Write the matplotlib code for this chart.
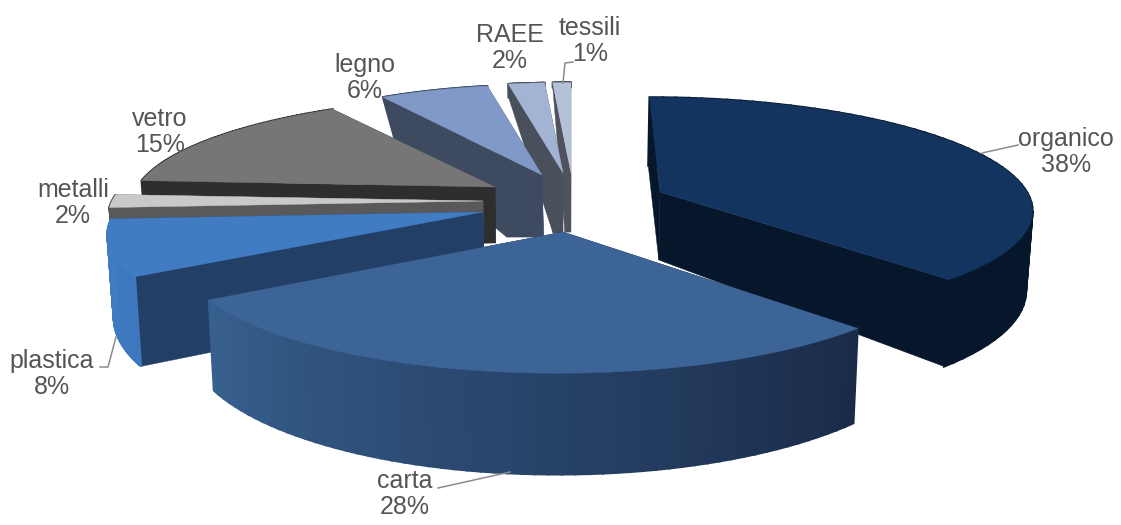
import numpy as np
import matplotlib
matplotlib.use("Agg")
import matplotlib.pyplot as plt
from matplotlib.colors import to_rgb

plt.rcParams['font.family'] = ['Liberation Sans', 'DejaVu Sans']

# Exploded 3D pie, drawn by hand because matplotlib has no perspective pie

labels = ["organico", "carta", "plastica", "metalli", "vetro", "legno", "RAEE", "tessili"]
values = [38, 28, 8, 2, 15, 6, 2, 1]

top_colors = ["#12345f", "#3c6496", "#417cc3", "#c9c9c9", "#767676", "#8099c6", "#a3b3d3", "#b5c0d9"]
face_colors = ["#07172b", "#1b2c4a", "#243f66", "#595959", "#2e2e2e", "#3d4a60", "#4a4f5c", "#50535e"]
rim_start = ["#07172b", "#1a2b49", "#3d78bf", "#595959", "#2e2e2e", "#3d4a60", "#4a4f5c", "#50535e"]
rim_end = ["#07172b", "#37608f", "#417cc3", "#595959", "#2e2e2e", "#3d4a60", "#4a4f5c", "#50535e"]

# apex x, apex y, radius x, radius y, perspective, skew, drop at rim, drop at apex, lean, foot
geometry = {
    "organico": (660, 192, 367, 108, 0.14, 12, 78, 68, 0.015, 0),
    "carta": (563, 232, 372, 113, 0.20, -4, 81, 70, 0.015, 0),
    "plastica": (483, 212, 368, 108, 0.20, 0, 80, 85, 0.015, 0),
    "metalli": (483, 201, 371, 103, 0.14, 0, 70, 50, 0.015, 0),
    "vetro": (495, 187, 358, 103, 0.14, -12, 70, 56, 0.015, 0),
    "legno": (542, 175, 332, 103, 0.14, 0, 55, 62, 0.12, 37),
    "RAEE": (563, 173, 332, 103, 0.14, 0, 15, 60, 0.015, 10),
    "tessili": (571, 173, 332, 103, 0.14, 0, 5, 59, 0.015, 6),
}
draw_order = ["tessili", "RAEE", "legno", "vetro", "metalli", "plastica", "organico", "carta"]

# text x, text y of the two line labels
label_pos = {
    "organico": (1066, 152), "carta": (405, 494), "plastica": (52, 374), "metalli": (73, 203),
    "vetro": (160, 132), "legno": (365, 78), "RAEE": (510, 48), "tessili": (590, 41),
}
leaders = [
    ([1018, 982], [145, 153]),
    ([438, 510], [488, 472]),
    ([100, 108, 116], [367, 367, 337]),
    ([573, 565, 563], [62, 63, 83]),
]

VANISH_X = 560


def down(x, drop, lean):
    # lower edge sits slightly closer to the middle
    return VANISH_X + (x - VANISH_X) * (1 - lean * drop / 85)


def project(geo, theta, drop):
    ax_, ay_, rx, ry, k, skew = geo[:6]
    u = np.sin(theta)
    v = -np.cos(theta)
    w = 1 - k * v
    x = ax_ + (rx * u + skew * v) / w
    y = ay_ + (ry * v + drop) / w
    return down(x, drop, geo[8]), y


def draw_slice(ax, name, start, end, top, face, c0, c1):
    geo = geometry[name]
    apex_x, apex_y = geo[0], geo[1]
    rim_drop, apex_drop, lean, foot = geo[6], geo[7], geo[8], geo[9]
    thetas = np.linspace(start, end, 60)

    # the two cut faces
    for th in (start, end):
        x0, y0 = project(geo, th, 0)
        x1, y1 = project(geo, th, rim_drop)
        base_x = down(apex_x, apex_drop, lean)
        xs = [apex_x, x0, x1, base_x - foot, base_x]
        ys = [apex_y, y0, y1, apex_y + apex_drop, apex_y + apex_drop]
        ax.fill(xs, ys, color=face, lw=0.3)

    # outer rim, small pieces so that the shade can change
    c0 = np.array(to_rgb(c0))
    c1 = np.array(to_rgb(c1))
    for i in range(len(thetas) - 1):
        x0, y0 = project(geo, thetas[i], 0)
        x1, y1 = project(geo, thetas[i + 1], 0)
        x2, y2 = project(geo, thetas[i + 1], rim_drop)
        x3, y3 = project(geo, thetas[i], rim_drop)
        col = c0 + (c1 - c0) * i / (len(thetas) - 2)
        ax.fill([x0, x1, x2, x3], [y0, y1, y2, y3], color=tuple(col), lw=1.5)

    # top surface
    xs, ys = project(geo, thetas, 0)
    ax.fill(np.r_[apex_x, xs], np.r_[apex_y, ys], color=top, lw=0.3)


fig = plt.figure(figsize=(11.21, 5.25), dpi=100)
ax = fig.add_axes([0, 0, 1, 1])
ax.set_xlim(0, 1121)
ax.set_ylim(525, 0)
ax.axis("off")

total = sum(values)
edges = np.cumsum([0] + values) / total * 2 * np.pi

for name in draw_order:
    i = labels.index(name)
    draw_slice(ax, name, edges[i], edges[i + 1], top_colors[i], face_colors[i], rim_start[i], rim_end[i])

for xs, ys in leaders:
    ax.plot(xs, ys, color="#8c8c8c", lw=1.1)

for i, name in enumerate(labels):
    x, y = label_pos[name]
    ax.text(x, y, f"{name}\n{values[i]}%", ha="center", va="center", fontsize=18,
            color="#555555", linespacing=1.07)

fig.savefig("out.png", dpi=100)
